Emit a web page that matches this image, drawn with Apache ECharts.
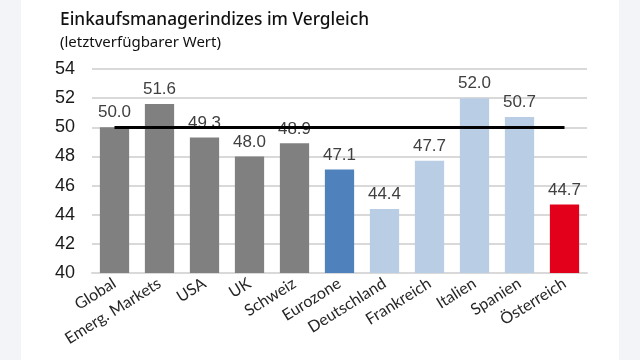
<!DOCTYPE html>
<html><head><meta charset="utf-8">
<script src="https://cdn.jsdelivr.net/npm/echarts@6/dist/echarts.min.js"></script>
<style>
html,body{margin:0;padding:0;background:#f3f4f7;}
#card{position:absolute;left:21px;top:0;width:598px;height:360px;background:#fff;}
#c{position:absolute;left:0;top:0;width:640px;height:360px;}
</style></head>
<body><div id="card"></div><div id="c"></div>
<script>
const categories = ["Global","Emerg. Markets","USA","UK","Schweiz","Eurozone","Deutschland","Frankreich","Italien","Spanien","Österreich"];
const values = [50.0,51.6,49.3,48.0,48.9,47.1,44.4,47.7,52.0,50.7,44.7];
const barColors = ["#808080","#808080","#808080","#808080","#808080","#4f81bd","#b9cde5","#b9cde5","#b9cde5","#b9cde5","#e2001a"];
const threshold = 50;
const yMin = 40, yMax = 54, yStep = 2;
const titleText = "Einkaufsmanagerindizes im Vergleich";
const subtitleText = "(letztverfügbarer Wert)";

const chart = echarts.init(document.getElementById('c'), null, {renderer:'canvas'});
chart.setOption({
  backgroundColor: 'transparent',
  animation: false,
  title: [
    {text: titleText, left: 60, top: 12, padding: 0, textStyle:{fontFamily:'Noto Sans', fontWeight:500, fontSize:17.3, color:'#111'}},
    {text: subtitleText, left: 60, top: 35, padding: 0, textStyle:{fontFamily:'Noto Sans', fontWeight:'normal', fontSize:15, color:'#111'}}
  ],
  grid: {left: 92, right: 53, top: 69, bottom: 87},
  xAxis: {
    type: 'category', data: categories,
    axisLine: {show: true, lineStyle: {color: '#d9d9d9', width: 2}},
    axisTick: {show: false},
    axisLabel: {rotate: 32, interval: 0, fontFamily: 'Lato', fontSize: 16, color: '#262626', margin: 9}
  },
  yAxis: {
    type: 'value', min: yMin, max: yMax, interval: yStep,
    axisLine: {show: false}, axisTick: {show: false},
    splitLine: {lineStyle: {color: '#d9d9d9', width: 2}},
    axisLabel: {fontFamily: 'Liberation Sans', fontSize: 18, color: '#1a1a1a', margin: 17}
  },
  series: [{
    type: 'bar',
    data: values.map((v, i) => ({value: v, itemStyle: {color: barColors[i]}})),
    barCategoryGap: '35%',
    label: {show: true, position: 'top', distance: 6, fontFamily: 'Liberation Sans', fontSize: 17, color: '#404040',
      formatter: p => p.value.toFixed(1)},
    markLine: {
      symbol: 'none', silent: true,
      label: {show: false},
      lineStyle: {color: '#000', width: 3, type: 'solid'},
      data: [[{xAxis: 0, yAxis: threshold}, {xAxis: categories.length - 1, yAxis: threshold}]]
    }
  }]
});
</script></body></html>
